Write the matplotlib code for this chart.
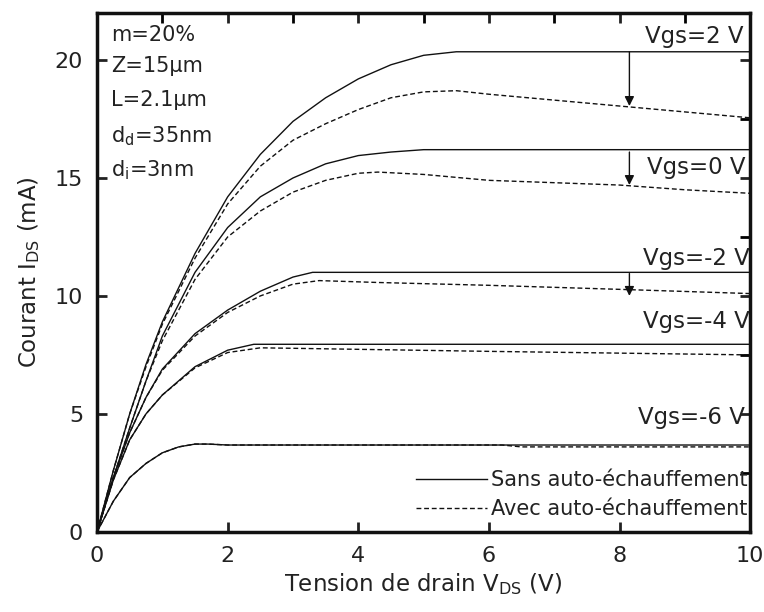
import matplotlib
matplotlib.use('Agg')
import matplotlib.pyplot as plt
from matplotlib.ticker import MultipleLocator

plt.rcParams['font.family'] = ['DejaVu Sans']
plt.rcParams['mathtext.default'] = 'regular'

# I-V curves: drain voltage (V) vs current (mA)
vgs_labels = ['Vgs=2 V', 'Vgs=0 V', 'Vgs=-2 V', 'Vgs=-4 V', 'Vgs=-6 V']

# without self-heating (solid)
v_sans_2 = [0, 0.25, 0.5, 0.75, 1.0, 1.5, 2.0, 2.5, 3.0, 3.5, 4.0, 4.5, 5.0, 5.5, 10]
i_sans_2 = [0, 2.6, 5.0, 7.1, 8.9, 11.8, 14.2, 16.0, 17.4, 18.4, 19.2, 19.8, 20.2, 20.35, 20.35]
v_sans_0 = [0, 0.25, 0.5, 0.75, 1.0, 1.5, 2.0, 2.5, 3.0, 3.5, 4.0, 4.5, 5.0, 10]
i_sans_0 = [0, 2.3, 4.4, 6.4, 8.3, 11.0, 12.9, 14.2, 15.0, 15.6, 15.95, 16.1, 16.2, 16.2]
v_sans_m2 = [0, 0.25, 0.5, 0.75, 1.0, 1.5, 2.0, 2.5, 3.0, 3.3, 10]
i_sans_m2 = [0, 2.3, 4.2, 5.7, 6.9, 8.4, 9.4, 10.2, 10.8, 11.0, 11.0]
v_sans_m4 = [0, 0.25, 0.5, 0.75, 1.0, 1.5, 2.0, 2.4, 10]
i_sans_m4 = [0, 2.2, 3.9, 5.0, 5.8, 7.0, 7.7, 7.95, 7.95]
v_sans_m6 = [0, 0.25, 0.5, 0.75, 1.0, 1.25, 1.5, 1.7, 2.0, 10]
i_sans_m6 = [0, 1.3, 2.3, 2.9, 3.35, 3.6, 3.72, 3.72, 3.68, 3.68]

# with self-heating (dashed)
v_avec_2 = [0, 0.25, 0.5, 0.75, 1.0, 1.5, 2.0, 2.5, 3.0, 3.5, 4.0, 4.5, 5.0, 5.5, 6.0, 7.0, 8.0, 9.0, 10]
i_avec_2 = [0, 2.6, 5.0, 7.0, 8.8, 11.6, 13.9, 15.5, 16.6, 17.3, 17.9, 18.4, 18.65, 18.7, 18.55, 18.3, 18.05, 17.8, 17.55]
v_avec_0 = [0, 0.25, 0.5, 0.75, 1.0, 1.5, 2.0, 2.5, 3.0, 3.5, 4.0, 4.3, 5.0, 6.0, 7.0, 8.0, 9.0, 10]
i_avec_0 = [0, 2.3, 4.4, 6.4, 8.1, 10.7, 12.5, 13.6, 14.4, 14.9, 15.2, 15.25, 15.15, 14.9, 14.8, 14.7, 14.5, 14.35]
v_avec_m2 = [0, 0.25, 0.5, 0.75, 1.0, 1.5, 2.0, 2.5, 3.0, 3.4, 4.3, 6.0, 8.1, 10]
i_avec_m2 = [0, 2.3, 4.2, 5.7, 6.85, 8.3, 9.3, 10.0, 10.5, 10.65, 10.57, 10.45, 10.27, 10.1]
v_avec_m4 = [0, 0.25, 0.5, 0.75, 1.0, 1.5, 2.0, 2.5, 3.0, 6.0, 10]
i_avec_m4 = [0, 2.2, 3.9, 5.0, 5.8, 6.95, 7.6, 7.8, 7.78, 7.65, 7.5]
v_avec_m6 = [0, 0.25, 0.5, 0.75, 1.0, 1.25, 1.5, 1.7, 2.0, 6.2, 6.5, 10]
i_avec_m6 = [0, 1.3, 2.3, 2.9, 3.35, 3.6, 3.72, 3.72, 3.68, 3.68, 3.6, 3.6]

# arrows showing the drop due to self-heating
arrow_v = 8.15
arrow_from = [20.35, 16.1, 10.95]
arrow_to = [18.05, 14.7, 10.0]

fig = plt.figure(figsize=(7.64, 6.12), dpi=100)
ax = fig.add_axes([0.127, 0.131, 0.855, 0.848])

sans = [(v_sans_2, i_sans_2), (v_sans_0, i_sans_0), (v_sans_m2, i_sans_m2),
        (v_sans_m4, i_sans_m4), (v_sans_m6, i_sans_m6)]
avec = [(v_avec_2, i_avec_2), (v_avec_0, i_avec_0), (v_avec_m2, i_avec_m2),
        (v_avec_m4, i_avec_m4), (v_avec_m6, i_avec_m6)]

for k, (v, i) in enumerate(sans):
    ax.plot(v, i, color='#111111', lw=1.0,
            label='Sans auto-échauffement' if k == 0 else None)
for k, (v, i) in enumerate(avec):
    ax.plot(v, i, color='#111111', lw=1.0, linestyle=(0, (3.5, 2)),
            label='Avec auto-échauffement' if k == 0 else None)

for a, b in zip(arrow_from, arrow_to):
    ax.annotate('', xy=(arrow_v, b), xytext=(arrow_v, a),
                arrowprops=dict(arrowstyle='-|>', color='#111111', lw=1.0,
                                mutation_scale=14, shrinkA=0, shrinkB=0))

# Vgs labels
label_y = [21.0, 15.45, 11.6, 8.9, 4.85]
label_x = [9.9, 9.93, 10.0, 10.0, 9.92]
for t, x, y in zip(vgs_labels, label_x, label_y):
    ax.text(x, y, t, ha='right', va='center', fontsize=16.5, color='#222222')

# device parameters
params = ['m=20%', 'Z=15µm', 'L=2.1µm', 'd$_d$=35nm', 'd$_i$=3nm']
param_y = [21.05, 19.75, 18.3, 16.75, 15.35]
for t, y in zip(params, param_y):
    ax.text(0.22, y, t, ha='left', va='center', fontsize=15, color='#222222')

ax.set_xlim(0, 10)
ax.set_ylim(0, 22)
ax.xaxis.set_major_locator(MultipleLocator(2))
ax.xaxis.set_minor_locator(MultipleLocator(1))
ax.yaxis.set_major_locator(MultipleLocator(5))
ax.yaxis.set_minor_locator(MultipleLocator(2.5))
ax.tick_params(which='major', direction='in', length=7, width=2,
               top=True, right=True, labelsize=16, pad=10, colors='#222222')
ax.tick_params(which='minor', direction='in', length=7, width=2,
               top=True, right=True, bottom=False, left=False)
for s in ax.spines.values():
    s.set_linewidth(2.5)
    s.set_color('#111111')

ax.set_xlabel('Tension de drain V$_{DS}$ (V)', fontsize=16.5, labelpad=4,
              color='#222222')
ax.set_ylabel('Courant I$_{DS}$ (mA)', fontsize=16.5, labelpad=9,
              color='#222222')

leg = ax.legend(loc='lower right', bbox_to_anchor=(1.015, 0.0), frameon=False,
                fontsize=15, handlelength=3.4, handletextpad=0.2,
                labelspacing=0.45, borderaxespad=0.2)
for t in leg.get_texts():
    t.set_color('#222222')

fig.savefig('out.png', dpi=100)
